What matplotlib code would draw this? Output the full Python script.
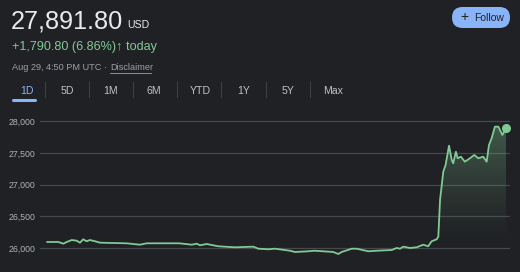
import numpy as np
import matplotlib
matplotlib.use("Agg")
import matplotlib.pyplot as plt
from matplotlib.patches import FancyBboxPatch
from matplotlib.path import Path

# price over the day (hours since start, USD)
hours = [0, 0.58, 0.84, 1.02, 1.28, 1.54, 1.71, 1.88, 2.06, 2.23, 2.50, 2.76,
         3.45, 4.15, 4.85, 5.20, 6.25, 6.91, 7.56, 7.82, 7.99, 8.34, 8.95,
         9.82, 10.78, 11.04, 11.56, 11.91, 12.70, 12.96, 13.66, 13.97, 14.44,
         14.96, 15.23, 15.40, 15.93, 16.19, 16.80, 17.23, 18.02, 18.28, 18.45,
         18.63, 18.98, 19.33, 19.67, 19.93, 20.11, 20.37, 20.46, 20.55, 20.72,
         20.84, 21.02, 21.16, 21.24, 21.38, 21.47, 21.64, 21.85, 22.11, 22.34,
         22.55, 22.81, 22.99, 23.11, 23.25, 23.42, 23.60, 23.81, 24.00]
price = [26095, 26095, 26068, 26095, 26126, 26115, 26084, 26137, 26106, 26126,
         26106, 26084, 26079, 26074, 26052, 26074, 26074, 26074, 26052, 26068,
         26043, 26063, 26027, 26011, 26021, 25989, 25980, 25989, 25957, 25937,
         25948, 25957, 25948, 25937, 25905, 25937, 25989, 25989, 25948, 25957,
         25968, 26000, 25989, 26021, 26000, 26011, 26052, 26027, 26106, 26137,
         26178, 26758, 27204, 27310, 27615, 27389, 27337, 27520, 27416, 27441,
         27362, 27416, 27468, 27416, 27441, 27362, 27626, 27732, 27915, 27915,
         27784, 27891.80]
prev_close = 26101.0
y_ticks = [26000, 26500, 27000, 27500, 28000]
tabs = ["1D", "5D", "1M", "6M", "YTD", "1Y", "5Y", "Max"]

bg = "#202124"
green = "#81c995"
blue = "#8ab4f8"
grey = "#9aa0a6"
white = "#e8eaed"
fam = ["Liberation Sans", "DejaVu Sans"]

fig = plt.figure(figsize=(5.2, 2.72), dpi=100, facecolor=bg)

# chart axes
ax = fig.add_axes([40 / 520, 1 - 262 / 272, 470 / 520, 152 / 272])
ax.set_facecolor(bg)
for s in ax.spines.values():
    s.set_visible(False)
ax.set_xticks([])
ax.set_yticks(y_ticks)
ax.set_yticklabels([f"{v:,}" for v in y_ticks], fontsize=6.3, color="#aeb2b7", family=fam)
ax.tick_params(axis="y", length=0, pad=3)
ax.grid(axis="y", color="#45484c", linewidth=0.9)
ax.set_axisbelow(True)

t = np.array(hours)
p = np.array(price)

# gradient fill above previous close
poly = ax.fill_between(t, p, prev_close, where=p >= prev_close, interpolate=True,
                       color="none", linewidth=0)
grad = np.zeros((100, 1, 4))
grad[:, 0, :3] = matplotlib.colors.to_rgb(green)
grad[:, 0, 3] = np.linspace(0, 0.4, 100) ** 1.2
img = ax.imshow(grad, extent=[t[0], t[-1], prev_close, max(price)], origin="lower",
                aspect="auto", zorder=1)
paths = poly.get_paths()
if paths:
    verts = np.concatenate([pp.vertices for pp in paths])
    codes = np.concatenate([pp.codes for pp in paths])
    img.set_clip_path(Path(verts, codes), transform=ax.transData)
ax.set_xlim(-0.38, 24.21)
ax.set_ylim(25779, 28178)

ax.plot(t, p, color=green, linewidth=1.3, zorder=3, solid_joinstyle="round")
ax.plot(t[-1], p[-1], "o", color=green, markersize=5.5, zorder=4)

# header overlay in pixel coordinates
hd = fig.add_axes([0, 0, 1, 1], zorder=5)
hd.set_xlim(0, 520)
hd.set_ylim(272, 0)
hd.axis("off")
hd.patch.set_alpha(0)

hd.text(11, 29, "27,891.80", fontsize=18.2, color=white, family=fam, va="baseline")
hd.text(127, 28.5, "USD", fontsize=7.6, color=white, family=fam, va="baseline")
hd.text(11.5, 50, "+1,790.80 (6.86%)\u2191 today", fontsize=9.1, color=green,
        family=fam, va="baseline")
hd.text(11.5, 70.5, "Aug 29, 4:50 PM UTC \u00b7", fontsize=6.6, color=grey,
        family=fam, va="baseline")
hd.text(110, 70.5, "Disclaimer", fontsize=6.6, color=grey, family=fam, va="baseline")
hd.plot([110, 151], [72.5, 72.5], color=grey, linewidth=0.6)

tab_x = [26.7, 67.5, 111, 154, 200, 244, 288, 333]
for i, (lab, x) in enumerate(zip(tabs, tab_x)):
    hd.text(x, 93.5, lab, fontsize=7.6, color=blue if i == 0 else "#bdc1c6",
            family=fam, ha="center", va="baseline")
for x in [45, 89, 133, 177, 221, 266, 310]:
    hd.plot([x, x], [82, 97], color="#3c4043", linewidth=0.8)
hd.plot([13, 35], [100, 100], color=blue, linewidth=2.2, solid_capstyle="round")

btn = FancyBboxPatch((452, 7), 58, 21, boxstyle="round,pad=0,rounding_size=10.5",
                     facecolor=blue, edgecolor="none")
hd.add_patch(btn)
hd.text(464, 17.5, "+", fontsize=10, color=bg, family=fam, ha="center", va="center")
hd.text(474.5, 21, "Follow", fontsize=7.5, color=bg, family=fam, va="baseline")

fig.savefig("out.png", dpi=100, facecolor=bg)
